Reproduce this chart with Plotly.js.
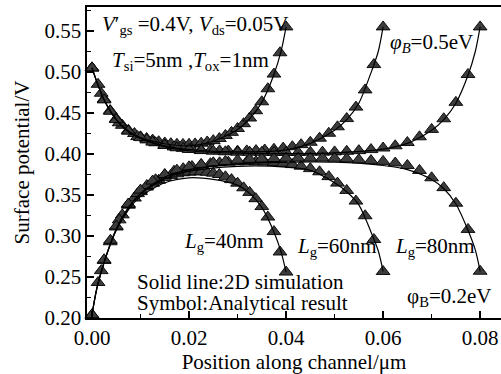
<!DOCTYPE html>
<html>
<head>
<meta charset="utf-8">
<script src="https://cdn.plot.ly/plotly-3.0.1.min.js"></script>
<style>html,body{margin:0;padding:0;background:#fff;overflow:hidden;}#chart{width:501px;height:374px;}</style>
</head>
<body>
<div id="chart"></div>
<script>
// Marker (analytical) positions along the channel, µm
const x40 = [0, 0.00125, 0.0025, 0.00375, 0.005, 0.00625, 0.0075, 0.00875, 0.01, 0.01125, 0.0125, 0.01375, 0.015, 0.01625, 0.0175, 0.01875, 0.02, 0.02125, 0.0225, 0.02375, 0.025, 0.02625, 0.0275, 0.02875, 0.03, 0.03125, 0.0325, 0.03375, 0.035, 0.03625, 0.0375, 0.03875, 0.04];
const x60 = [0, 0.0019, 0.0038, 0.0056, 0.0075, 0.0094, 0.0113, 0.0131, 0.015, 0.0169, 0.0188, 0.0206, 0.0225, 0.0244, 0.0263, 0.0281, 0.03, 0.0319, 0.0338, 0.0356, 0.0375, 0.0394, 0.0413, 0.0431, 0.045, 0.0469, 0.0488, 0.0506, 0.0525, 0.0544, 0.0563, 0.0581, 0.06];
const x80 = [0, 0.0025, 0.005, 0.0075, 0.01, 0.0125, 0.015, 0.0175, 0.02, 0.0225, 0.025, 0.0275, 0.03, 0.0325, 0.035, 0.0375, 0.04, 0.0425, 0.045, 0.0475, 0.05, 0.0525, 0.055, 0.0575, 0.06, 0.0625, 0.065, 0.0675, 0.07, 0.0725, 0.075, 0.0775, 0.08];

// Analytical result, phiB = 0.5 eV
const ana40_05 = [0.505, 0.485, 0.467, 0.453, 0.443, 0.435, 0.429, 0.425, 0.421, 0.419, 0.417, 0.415, 0.4135, 0.4126, 0.4119, 0.4117, 0.4118, 0.4123, 0.4132, 0.4147, 0.4163, 0.4189, 0.4226, 0.4264, 0.4311, 0.437, 0.4439, 0.4528, 0.4637, 0.4796, 0.4975, 0.5235, 0.555];
const ana60_05 = [0.505, 0.4741, 0.4521, 0.4381, 0.4281, 0.4212, 0.4172, 0.4137, 0.4108, 0.4086, 0.4069, 0.4057, 0.4048, 0.4043, 0.4039, 0.4036, 0.4035, 0.4038, 0.4042, 0.4049, 0.4058, 0.4072, 0.4089, 0.4114, 0.4143, 0.4193, 0.4253, 0.4332, 0.4432, 0.4572, 0.4782, 0.5091, 0.555];
const ana80_05 = [0.505, 0.466, 0.442, 0.428, 0.420, 0.4145, 0.4105, 0.4076, 0.4056, 0.4042, 0.4034, 0.4027, 0.4022, 0.4021, 0.402, 0.4019, 0.4019, 0.4019, 0.4022, 0.4023, 0.4026, 0.4033, 0.4041, 0.4054, 0.4073, 0.410, 0.414, 0.421, 0.430, 0.443, 0.463, 0.497, 0.555];
// Analytical result, phiB = 0.2 eV
const ana40_02 = [0.203, 0.2433, 0.2702, 0.293, 0.311, 0.3258, 0.3376, 0.3463, 0.3541, 0.3597, 0.3644, 0.368, 0.3715, 0.3739, 0.3758, 0.3771, 0.3779, 0.3783, 0.3783, 0.3777, 0.3766, 0.375, 0.3722, 0.3688, 0.3644, 0.3588, 0.3532, 0.3455, 0.3359, 0.3231, 0.3054, 0.2805, 0.256];
const ana60_02 = [0.2038, 0.2578, 0.2948, 0.3197, 0.3387, 0.3517, 0.3616, 0.3686, 0.3745, 0.379, 0.3821, 0.3847, 0.3867, 0.3882, 0.3893, 0.390, 0.3905, 0.3906, 0.3906, 0.3903, 0.3897, 0.3886, 0.3871, 0.3851, 0.3822, 0.3783, 0.3724, 0.3645, 0.3556, 0.3426, 0.3247, 0.2957, 0.2567];
const ana80_02 = [0.204, 0.271, 0.312, 0.339, 0.356, 0.367, 0.375, 0.3803, 0.3843, 0.3873, 0.3893, 0.3909, 0.3925, 0.3935, 0.394, 0.3945, 0.395, 0.395, 0.395, 0.395, 0.3948, 0.3942, 0.393, 0.392, 0.391, 0.389, 0.386, 0.380, 0.371, 0.359, 0.340, 0.308, 0.257];

// 2D simulation (solid lines)
const simX40 = [0, 0.001, 0.0025, 0.005, 0.0075, 0.01, 0.015, 0.02, 0.025, 0.03, 0.0325, 0.035, 0.0375, 0.039, 0.04];
const simX60 = [0, 0.001, 0.0025, 0.005, 0.0075, 0.01, 0.015, 0.02, 0.03, 0.04, 0.045, 0.05, 0.0525, 0.055, 0.0575, 0.059, 0.06];
const simX80 = [0, 0.001, 0.0025, 0.005, 0.0075, 0.01, 0.015, 0.02, 0.03, 0.04, 0.05, 0.06, 0.065, 0.07, 0.0725, 0.075, 0.0775, 0.079, 0.08];
const sim40_05 = [0.505, 0.488, 0.466, 0.442, 0.428, 0.420, 0.4125, 0.410, 0.4155, 0.430, 0.443, 0.463, 0.497, 0.526, 0.555];
const sim60_05 = [0.505, 0.488, 0.466, 0.442, 0.427, 0.419, 0.410, 0.4055, 0.4025, 0.405, 0.413, 0.429, 0.442, 0.462, 0.499, 0.525, 0.555];
const sim80_05 = [0.505, 0.488, 0.466, 0.442, 0.427, 0.419, 0.409, 0.404, 0.401, 0.4005, 0.4015, 0.406, 0.413, 0.429, 0.442, 0.462, 0.496, 0.525, 0.555];
const sim40_02 = [0.204, 0.236, 0.268, 0.307, 0.332, 0.348, 0.365, 0.371, 0.369, 0.362, 0.352, 0.335, 0.305, 0.280, 0.256];
const sim60_02 = [0.204, 0.236, 0.268, 0.308, 0.334, 0.351, 0.370, 0.379, 0.385, 0.384, 0.380, 0.365, 0.354, 0.338, 0.305, 0.282, 0.257];
const sim80_02 = [0.204, 0.236, 0.268, 0.309, 0.335, 0.352, 0.372, 0.381, 0.388, 0.390, 0.390, 0.386, 0.381, 0.369, 0.358, 0.339, 0.307, 0.283, 0.257];

const xTicks = [0, 0.02, 0.04, 0.06, 0.08];
const xTickText = ['0.00', '0.02', '0.04', '0.06', '0.08'];
const yTicks = [0.20, 0.25, 0.30, 0.35, 0.40, 0.45, 0.50, 0.55];
const yTickText = ['0.20', '0.25', '0.30', '0.35', '0.40', '0.45', '0.50', '0.55'];

const FONT = 'Liberation Serif, Times New Roman, serif';

const markerStyle = {symbol: 'triangle-up', size: 12, color: '#3c3c3c', line: {color: '#000', width: 0.9}};
const lineStyle = {color: '#000', width: 1.2, shape: 'spline', smoothing: 0.8};

const anaSets = [[x40, ana40_05], [x60, ana60_05], [x80, ana80_05], [x40, ana40_02], [x60, ana60_02], [x80, ana80_02]];
const simSets = [[simX40, sim40_05], [simX60, sim60_05], [simX80, sim80_05], [simX40, sim40_02], [simX60, sim60_02], [simX80, sim80_02]];

const traces = [];
anaSets.forEach(s => traces.push({x: s[0], y: s[1], type: 'scatter', mode: 'markers', marker: markerStyle, cliponaxis: false, showlegend: false, hoverinfo: 'skip'}));
simSets.forEach(s => traces.push({x: s[0], y: s[1], type: 'scatter', mode: 'lines', line: lineStyle, showlegend: false, hoverinfo: 'skip'}));

const ann = (x, y, text) => ({x: x, y: y, xref: 'x', yref: 'y', text: text, showarrow: false, xanchor: 'left', yanchor: 'middle', font: {family: FONT, size: 21, color: '#000'}});

const layout = {
  width: 501, height: 374, autosize: false,
  margin: {l: 87, r: 0, t: 7, b: 56, pad: 0, autoexpand: false},
  paper_bgcolor: '#fff', plot_bgcolor: '#fff',
  font: {family: FONT, size: 21, color: '#000'},
  xaxis: {
    range: [-0.00103, 0.0843], automargin: false,
    tickvals: xTicks, ticktext: xTickText,
    ticks: 'inside', ticklen: 7, tickwidth: 1.3, tickcolor: '#000',
    minor: {dtick: 0.01, tick0: 0, ticks: 'inside', ticklen: 4, tickwidth: 1.2, tickcolor: '#000'},
    showline: true, linecolor: '#000', linewidth: 1.6, mirror: true,
    showgrid: false, zeroline: false,
    tickfont: {family: FONT, size: 21, color: '#000'},
    title: {text: 'Position along channel/μm', font: {family: FONT, size: 21, color: '#000'}, standoff: 10}
  },
  yaxis: {
    range: [0.20, 0.5793], automargin: false,
    tickvals: yTicks, ticktext: yTickText,
    ticks: 'inside', ticklen: 7, tickwidth: 1.3, tickcolor: '#000',
    minor: {dtick: 0.025, tick0: 0.2, ticks: 'inside', ticklen: 4, tickwidth: 1.2, tickcolor: '#000'},
    showline: true, linecolor: '#000', linewidth: 1.6, mirror: false,
    showgrid: false, zeroline: false,
    tickfont: {family: FONT, size: 21, color: '#000'},
    title: {text: 'Surface potential/V', font: {family: FONT, size: 21, color: '#000'}, standoff: 9}
  },
  annotations: [
    ann(0.00165, 0.557, "<i>V</i>′<sub>gs</sub> =0.4V, <i>V</i><sub>ds</sub>=0.05V"),
    ann(0.0037, 0.513, "<i>T</i><sub>si</sub>=5nm ,<i>T</i><sub>ox</sub>=1nm"),
    ann(0.061, 0.5354, "<i>φ</i><sub><i>B</i></sub>=0.5eV"),
    ann(0.01856, 0.2927, "<i>L</i><sub>g</sub>=40nm"),
    ann(0.04186, 0.2866, "<i>L</i><sub>g</sub>=60nm"),
    ann(0.0621, 0.2866, "<i>L</i><sub>g</sub>=80nm"),
    ann(0.00887, 0.2439, "Solid line:2D simulation"),
    ann(0.00887, 0.2183, "Symbol:Analytical result"),
    ann(0.0645, 0.2256, "φ<sub>B</sub>=0.2eV")
  ]
};

Plotly.newPlot('chart', traces, layout, {staticPlot: true, displayModeBar: false});
</script>
</body>
</html>
